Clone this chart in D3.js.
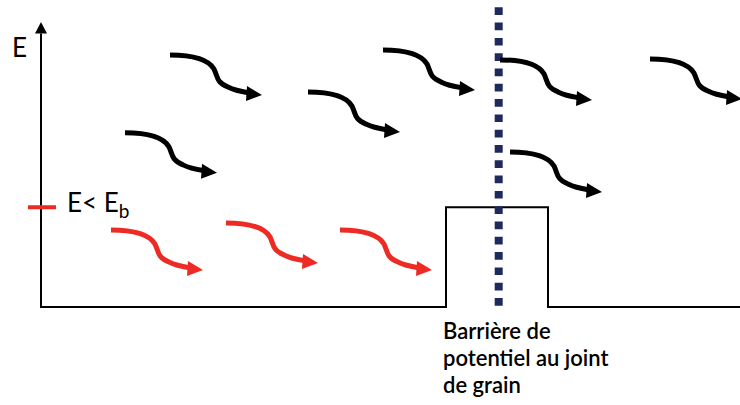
<!DOCTYPE html>
<html>
<head>
<meta charset="utf-8">
<script src="https://cdn.jsdelivr.net/npm/d3@7"></script>
<style>
  html, body { margin: 0; padding: 0; background: #fff; }
  svg { display: block; }
  text { font-family: Lato, "Open Sans", sans-serif; fill: #000; }
</style>
</head>
<body>
<svg id="chart" width="740" height="405"></svg>
<script>
// ---- data (position units along the sample, energy units) ----
const blackArrowX = [129, 267, 342, 459, 609, 469, 84];
const blackArrowE = [88.4, 75.4, 90.2, 86.7, 87.0, 54.4, 61.1];
const redArrowX   = [70, 185, 299];
const redArrowE   = [27.0, 29.5, 27.0];
const barrierStart = 405;
const barrierEnd   = 507;
const grainBoundary = 457.7;
const barrierEnergy = 35;
const axisLabel = "E";
const levelLabel = "E< E";
const levelSub = "b";
const captionLines = ["Barrière de", "potentiel au joint", "de grain"];

// ---- scales ----
const x = d3.scaleLinear().domain([0, 700]).range([41, 741]);
const y = d3.scaleLinear().domain([0, 100]).range([307, 22]);

const svg = d3.select("#chart");

// y axis with arrow head
svg.append("line")
  .attr("x1", x(0)).attr("x2", x(0))
  .attr("y1", y(0) + 1).attr("y2", y(96))
  .attr("stroke", "#000").attr("stroke-width", 2);
svg.append("path")
  .attr("d", `M${x(0)},${y(100)} L${x(0) + 6},${y(96)} L${x(0) - 6},${y(96)} Z`)
  .attr("fill", "#000");

// potential profile (baseline + barrier)
const profile = [
  [0, 0], [barrierStart, 0], [barrierStart, barrierEnergy],
  [barrierEnd, barrierEnergy], [barrierEnd, 0], [700, 0]
];
svg.append("path")
  .attr("d", d3.line().x(d => x(d[0])).y(d => y(d[1]))(profile))
  .attr("fill", "none").attr("stroke", "#000").attr("stroke-width", 2);

// grain boundary dotted line
svg.append("line")
  .attr("x1", x(grainBoundary)).attr("x2", x(grainBoundary))
  .attr("y1", 7.3).attr("y2", y(0) + 0.5)
  .attr("stroke", "#1f2a5c").attr("stroke-width", 8)
  .attr("stroke-dasharray", "7.7,7.6");

// red level tick
svg.append("line")
  .attr("x1", x(0) - 13).attr("x2", x(0) + 15)
  .attr("y1", y(barrierEnergy)).attr("y2", y(barrierEnergy))
  .attr("stroke", "#ee2a24").attr("stroke-width", 4);

// labels
svg.append("text")
  .attr("x", 12).attr("y", 57)
  .attr("font-size", 26)
  .text(axisLabel);

const lvl = svg.append("text")
  .attr("x", 67).attr("y", 212)
  .attr("font-size", 26);
lvl.append("tspan").text(levelLabel);
lvl.append("tspan").attr("font-size", 19).attr("dy", 6).text(levelSub);

svg.append("g").selectAll("text")
  .data(captionLines).join("text")
  .attr("x", 443)
  .attr("y", (d, i) => 339 + i * 27)
  .attr("font-size", 22)
  .attr("font-weight", 600)
  .text(d => d);

// wavy arrows
const wave = "M0,0 C22,0 38,4 44,14 C48,22 46,27 58,32 C66,36 74,37 80,38";
const head = "M77,31 L92,40 L76,46 Z";

function drawArrows(xs, es, color) {
  const g = svg.append("g");
  const a = g.selectAll("g").data(xs.map((v, i) => [v, es[i]])).join("g")
    .attr("transform", d => `translate(${x(d[0])},${y(d[1])})`);
  a.append("path").attr("d", wave)
    .attr("fill", "none").attr("stroke", color)
    .attr("stroke-width", 5).attr("stroke-linecap", "butt");
  a.append("path").attr("d", head).attr("fill", color);
}
drawArrows(blackArrowX, blackArrowE, "#000");
drawArrows(redArrowX, redArrowE, "#ee2a24");
</script>
</body>
</html>
